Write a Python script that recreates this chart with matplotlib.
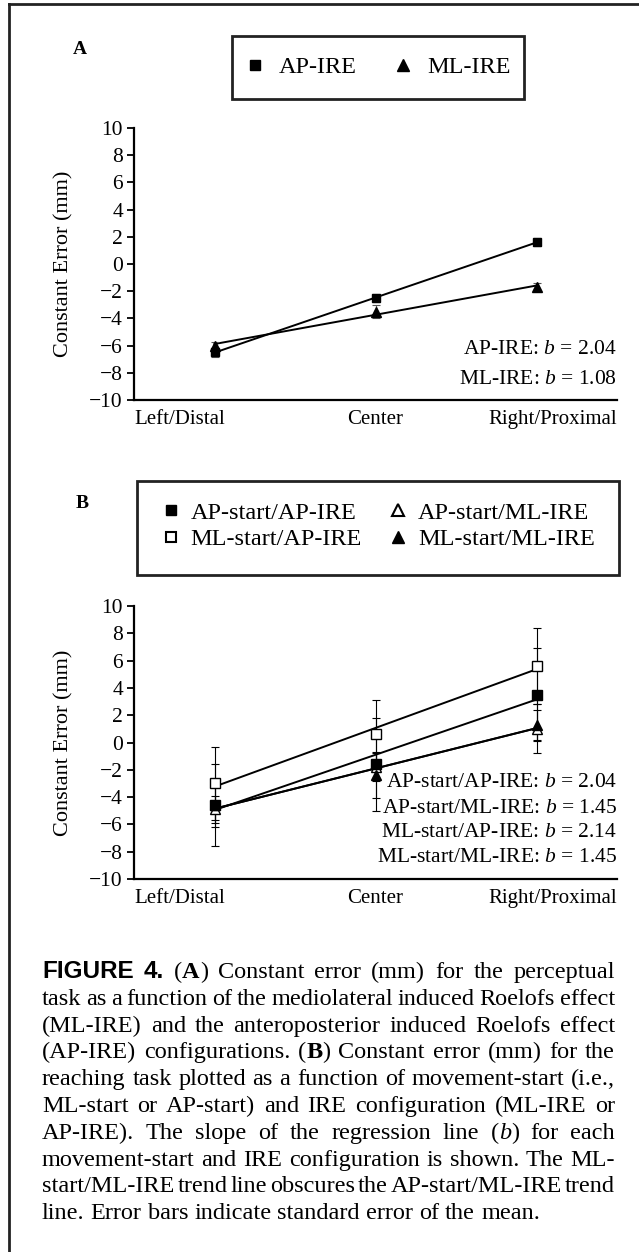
import re
import numpy as np
import matplotlib
matplotlib.use("Agg")
import matplotlib.pyplot as plt
from matplotlib.lines import Line2D
from matplotlib.patches import Rectangle

plt.rcParams["font.family"] = ["Liberation Serif", "DejaVu Serif"]
plt.rcParams["mathtext.fontset"] = "custom"
plt.rcParams["mathtext.rm"] = "Liberation Serif"
plt.rcParams["mathtext.it"] = "Liberation Serif:italic"

W, H = 639, 1252

# target positions on the x axis
positions = ["Left/Distal", "Center", "Right/Proximal"]

# panel A - perceptual task (means and SE, mm)
ap_ire_mean = [-6.5, -2.5, 1.6]
ap_ire_se = [0.35, 0.3, 0.3]
ml_ire_mean = [-6.0, -3.5, -1.7]
ml_ire_se = [0.3, 0.45, 0.3]
a_labels = ["AP-IRE", "ML-IRE"]
a_slopes = ["2.04", "1.08"]

# panel B - reaching task
apap_mean = [-4.6, -1.6, 3.5]
apap_se = [3.0, 3.4, 3.4]
apml_mean = [-4.9, -1.8, 1.0]
apml_se = [1.0, 1.0, 1.8]
mlap_mean = [-3.0, 0.6, 5.6]
mlap_se = [2.7, 2.5, 2.8]
mlml_mean = [-4.6, -2.4, 1.3]
mlml_se = [1.6, 1.7, 1.1]
b_labels = ["AP-start/AP-IRE", "AP-start/ML-IRE", "ML-start/AP-IRE", "ML-start/ML-IRE"]
b_slopes = ["2.04", "1.45", "2.14", "1.45"]

caption = [
    "^^FIGURE^^ ^^4.^^ (**A**) Constant error (mm) for the perceptual",
    "task as a function of the mediolateral induced Roelofs effect",
    "(ML-IRE) and the anteroposterior induced Roelofs effect",
    "(AP-IRE) configurations. (**B**) Constant error (mm) for the",
    "reaching task plotted as a function of movement-start (i.e.,",
    "ML-start or AP-start) and IRE configuration (ML-IRE or",
    "AP-IRE). The slope of the regression line (_b_) for each",
    "movement-start and IRE configuration is shown. The ML-",
    "start/ML-IRE trend line obscures the AP-start/ML-IRE trend",
    "line. Error bars indicate standard error of the mean.",
]


def fx(px):
    return px / W


def fy(py):
    return 1 - py / H


def style_axis(ax):
    ax.set_xlim(-0.5, 2.5)
    ax.set_ylim(-10, 10)
    ax.set_yticks(range(-10, 11, 2))
    for side in ["top", "right"]:
        ax.spines[side].set_visible(False)
    for side in ["left", "bottom"]:
        ax.spines[side].set_linewidth(1.6)
    ax.tick_params(axis="y", direction="out", length=5, width=1.3, labelsize=15.5, pad=3)
    ax.set_xticks([-0.5, 1, 2.5], positions)
    ax.tick_params(axis="x", length=0, labelsize=15, pad=7)
    tl = ax.get_xticklabels()
    tl[0].set_ha("left")
    tl[2].set_ha("right")
    ax.set_ylabel("Constant Error (mm)", fontsize=16)
    ax.yaxis.set_label_coords(-0.125, 0.5)


def draw_series(ax, mean, se, marker, face, ms, ecolor="black"):
    x = np.arange(len(mean))
    slope, icpt = np.polyfit(x, mean, 1)
    ends = x[[0, -1]]
    ax.plot(ends, icpt + slope * ends, color="black", lw=1.4, zorder=2)
    ax.errorbar(x, mean, yerr=se, fmt="none", ecolor=ecolor, elinewidth=0.8,
                capsize=3, capthick=0.8, zorder=3)
    ax.plot(x, mean, ls="none", marker=marker, mfc=face, mec="black", ms=ms, mew=1, zorder=4)


fig = plt.figure(figsize=(W / 100, H / 100), dpi=100)

# page frame (left and top)
fig.add_artist(Line2D([fx(9), fx(9)], [fy(4), 0], color="#222222", lw=2))
fig.add_artist(Line2D([fx(9), 1], [fy(4), fy(4)], color="#222222", lw=2))

# ---- panel A
axA = fig.add_axes([fx(134), fy(400), fx(617) - fx(134), (400 - 128) / H])
style_axis(axA)
draw_series(axA, ap_ire_mean, ap_ire_se, "s", "black", 5.5, "#555555")
draw_series(axA, ml_ire_mean, ml_ire_se, "^", "black", 6.5, "#555555")
for yv, name, b in zip([-6.25, -8.5], a_labels, a_slopes):
    axA.text(2.5, yv, f"{name}: $b$ = {b}", ha="right", va="center", fontsize=15.5)

fig.text(fx(80), fy(49), "A", fontsize=14, fontweight="bold", ha="center", va="center")
fig.add_artist(Rectangle((fx(232), fy(99)), fx(524) - fx(232), (99 - 36) / H,
                         fill=False, ec="#222222", lw=2, transform=fig.transFigure))
a_handles = [Line2D([], [], ls="none", marker="s", mfc="black", mec="black", ms=7.5),
             Line2D([], [], ls="none", marker="^", mfc="black", mec="black", ms=8)]
fig.legend(a_handles, a_labels, loc="center", bbox_to_anchor=(fx(378), fy(67)), ncol=2,
           frameon=False, fontsize=17.5, handletextpad=0.6, columnspacing=1.5, handlelength=0.8)

# ---- panel B
axB = fig.add_axes([fx(134), fy(879), fx(617) - fx(134), (879 - 606) / H])
style_axis(axB)
draw_series(axB, apml_mean, apml_se, "^", "white", 7.5)
draw_series(axB, mlml_mean, mlml_se, "^", "black", 7.5)
draw_series(axB, apap_mean, apap_se, "s", "black", 7)
draw_series(axB, mlap_mean, mlap_se, "s", "white", 7)
for yv, name, b in zip([-2.9, -4.8, -6.6, -8.45], b_labels, b_slopes):
    axB.text(2.5, yv, f"{name}: $b$ = {b}", ha="right", va="center", fontsize=15.5)

fig.text(fx(82), fy(503), "B", fontsize=14, fontweight="bold", ha="center", va="center")
fig.add_artist(Rectangle((fx(137), fy(575)), fx(619) - fx(137), (575 - 481) / H,
                         fill=False, ec="#222222", lw=2, transform=fig.transFigure))
b_handles = {
    "AP-start/AP-IRE": Line2D([], [], ls="none", marker="s", mfc="black", mec="black", ms=7.5),
    "AP-start/ML-IRE": Line2D([], [], ls="none", marker="^", mfc="white", mec="black", ms=8, mew=1.5),
    "ML-start/AP-IRE": Line2D([], [], ls="none", marker="s", mfc="white", mec="black", ms=7.5, mew=1.5),
    "ML-start/ML-IRE": Line2D([], [], ls="none", marker="^", mfc="black", mec="black", ms=8),
}
order = ["AP-start/AP-IRE", "ML-start/AP-IRE", "AP-start/ML-IRE", "ML-start/ML-IRE"]
fig.legend([b_handles[k] for k in order], order, loc="center", bbox_to_anchor=(fx(378), fy(526)),
           ncol=2, frameon=False, fontsize=17.5, handletextpad=0.4, columnspacing=1.1,
           handlelength=0.8, labelspacing=0.2)

# ---- caption, justified between x0 and x1
styles = {
    "plain": dict(),
    "**": dict(fontweight="bold"),
    "_": dict(fontstyle="italic"),
    "^^": dict(family="Liberation Sans", fontweight="bold"),
}


def split_word(word):
    parts = []
    for piece in re.split(r"(\^\^.+?\^\^|\*\*.+?\*\*|_.+?_)", word):
        if not piece:
            continue
        for mark in ["^^", "**", "_"]:
            if piece.startswith(mark) and piece.endswith(mark) and len(piece) > 2 * len(mark):
                parts.append((piece[len(mark):-len(mark)], styles[mark]))
                break
        else:
            parts.append((piece, styles["plain"]))
    return parts


renderer = fig.canvas.get_renderer()
cap_size = 17.5
x0, x1 = 42, 615
line_y = 972
line_gap = 26.8
space_w = 0.25 * cap_size * 100 / 72

for i, line in enumerate(caption):
    words = []
    for w in line.split(" "):
        segs = []
        for txt, st in split_word(w):
            t = fig.text(0, 0, txt, fontsize=cap_size, va="baseline", ha="left", **st)
            segs.append((t, t.get_window_extent(renderer).width))
        words.append(segs)
    widths = [sum(s[1] for s in segs) for segs in words]
    if i < len(caption) - 1 and len(words) > 1:
        gap = (x1 - x0 - sum(widths)) / (len(words) - 1)
    else:
        gap = space_w
    x = x0
    base = line_y + i * line_gap + 6
    for segs, wd in zip(words, widths):
        xx = x
        for t, sw in segs:
            t.set_position((fx(xx), fy(base)))
            xx += sw
        x += wd + gap

fig.savefig("out.png", dpi=100)
